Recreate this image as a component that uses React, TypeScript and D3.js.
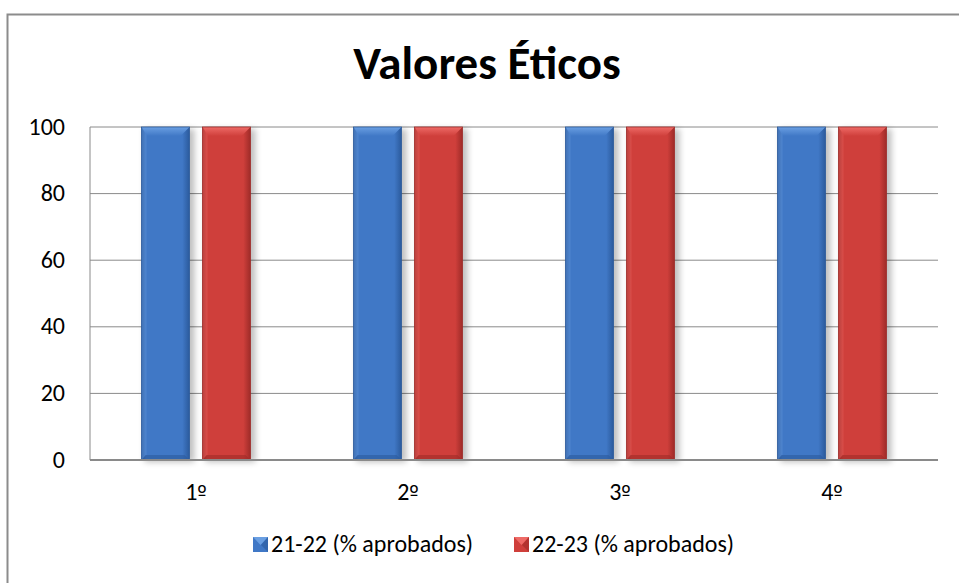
import { useEffect, useRef } from 'react';
import * as d3 from 'd3';

const categories = ['1º', '2º', '3º', '4º'];
const series = ['21-22 (% aprobados)', '22-23 (% aprobados)'];
const values2122 = [100, 100, 100, 100];
const values2223 = [100, 100, 100, 100];
const yTicks = [0, 20, 40, 60, 80, 100];

const palette = [
  { light: '#6a9fe2', main: '#4078c6', dark: '#2b5a9c' },
  { light: '#ee6a66', main: '#cf3f3b', dark: '#9e2b28' },
];

const FONT = "Carlito, Calibri, 'Open Sans', 'Noto Sans', sans-serif";

const App = () => {
  const svgRef = useRef<SVGSVGElement | null>(null);

  useEffect(() => {
    if (!svgRef.current) return;
    const svg = d3.select(svgRef.current);
    svg.selectAll('*').remove();

    const width = 959;
    const height = 583;
    const plot = { left: 90, right: 938, top: 127, bottom: 460 };

    const defs = svg.append('defs');
    palette.forEach((c, i) => {
      const g = defs.append('linearGradient').attr('id', `body${i}`).attr('x1', 0).attr('x2', 1).attr('y1', 0).attr('y2', 0);
      g.append('stop').attr('offset', '0%').attr('stop-color', c.dark);
      g.append('stop').attr('offset', '10%').attr('stop-color', c.main);
      g.append('stop').attr('offset', '85%').attr('stop-color', c.main);
      g.append('stop').attr('offset', '100%').attr('stop-color', c.dark);
      const t = defs.append('linearGradient').attr('id', `top${i}`).attr('x1', 0).attr('x2', 0).attr('y1', 0).attr('y2', 1);
      t.append('stop').attr('offset', '0%').attr('stop-color', c.light);
      t.append('stop').attr('offset', '100%').attr('stop-color', c.main);
    });
    const f = defs.append('filter').attr('id', 'shadow').attr('x', '-20%').attr('y', '-5%').attr('width', '150%').attr('height', '110%');
    f.append('feGaussianBlur').attr('stdDeviation', 3);

    svg.append('rect').attr('width', width).attr('height', height).attr('fill', '#fff');
    svg.append('rect')
      .attr('x', 7.5).attr('y', 14.5).attr('width', 1000).attr('height', 700)
      .attr('fill', 'none').attr('stroke', '#8c8c8c').attr('stroke-width', 2);

    svg.append('text')
      .attr('x', 487).attr('y', 79)
      .attr('text-anchor', 'middle')
      .attr('font-family', FONT).attr('font-weight', 'bold').attr('font-size', 47)
      .attr('fill', '#000')
      .text('Valores Éticos');

    const y = d3.scaleLinear().domain([0, 100]).range([plot.bottom, plot.top]);
    const x0 = d3.scaleBand<string>().domain(categories).range([plot.left, plot.right]);
    const x1 = d3.scaleBand<string>().domain(series).range([51.5, 160.5]).paddingInner(13 / 61);

    // gridlines
    svg.append('g').selectAll('line').data(yTicks.filter(t => t > 0)).enter().append('line')
      .attr('x1', plot.left).attr('x2', plot.right)
      .attr('y1', d => y(d)).attr('y2', d => y(d))
      .attr('stroke', '#8a8a8a').attr('stroke-width', 1);

    svg.append('line')
      .attr('x1', plot.left).attr('x2', plot.left).attr('y1', plot.top).attr('y2', plot.bottom)
      .attr('stroke', '#8a8a8a').attr('stroke-width', 1);

    svg.append('g').selectAll('text').data(yTicks).enter().append('text')
      .attr('x', 65).attr('y', d => y(d) + 7.5)
      .attr('text-anchor', 'end')
      .attr('font-family', FONT).attr('font-size', 24).attr('fill', '#000')
      .text(d => d);

    const rows = categories.map((c, i) => ({ cat: c, vals: [values2122[i], values2223[i]] }));

    rows.forEach(r => {
      r.vals.forEach((v, si) => {
        const bx = (x0(r.cat) as number) + (x1(series[si]) as number);
        const bw = x1.bandwidth();
        const by = y(v);
        const bh = y(0) - by;
        const g = svg.append('g');
        g.append('rect')
          .attr('x', bx + 3).attr('y', by + 2).attr('width', bw + 2).attr('height', bh)
          .attr('fill', '#000').attr('opacity', 0.25).attr('filter', 'url(#shadow)');
        g.append('rect')
          .attr('x', bx).attr('y', by).attr('width', bw).attr('height', bh)
          .attr('fill', `url(#body${si})`);
        const bev = 9;
        g.append('path')
          .attr('d', `M${bx},${by} L${bx + bw},${by} L${bx + bw - bev},${by + bev} L${bx + bev * 0.6},${by + bev} Z`)
          .attr('fill', `url(#top${si})`);
        g.append('path')
          .attr('d', `M${bx},${by} L${bx + 5},${by + 8} L${bx + 5},${by + bh - 5} L${bx},${by + bh} Z`)
          .attr('fill', palette[si].light).attr('opacity', 0.35);
        g.append('path')
          .attr('d', `M${bx},${by + bh} L${bx + bw},${by + bh} L${bx + bw - 5},${by + bh - 5} L${bx + 4},${by + bh - 5} Z`)
          .attr('fill', palette[si].dark).attr('opacity', 0.6);
        g.append('rect')
          .attr('x', bx).attr('y', by).attr('width', bw).attr('height', bh)
          .attr('fill', 'none').attr('stroke', palette[si].dark).attr('stroke-width', 0.8);
      });
    });

    // x axis line
    svg.append('line')
      .attr('x1', plot.left).attr('x2', plot.right).attr('y1', plot.bottom).attr('y2', plot.bottom)
      .attr('stroke', '#8a8a8a').attr('stroke-width', 2);

    const catLabels = svg.append('g').selectAll('text').data(categories).enter().append('text')
      .attr('x', d => (x0(d) as number) + x0.bandwidth() / 2)
      .attr('y', 500)
      .attr('text-anchor', 'middle')
      .attr('font-family', FONT).attr('font-size', 24).attr('fill', '#000');
    catLabels.append('tspan').text(d => d.slice(0, -1));
    catLabels.append('tspan').attr('font-family', "'DejaVu Sans', sans-serif").attr('font-size', 20).text(d => d.slice(-1));

    // legend
    const legendX = [253, 514];
    series.forEach((s, i) => {
      const lx = legendX[i];
      const c = palette[i];
      svg.append('rect').attr('x', lx).attr('y', 537).attr('width', 15).attr('height', 15).attr('fill', c.main);
      svg.append('path')
        .attr('d', `M${lx},537 L${lx + 15},537 L${lx + 7.5},545 Z`).attr('fill', c.light);
      svg.append('path')
        .attr('d', `M${lx + 15},537 L${lx + 15},552 L${lx + 8},545 Z`).attr('fill', c.dark).attr('opacity', 0.6);
      svg.append('text')
        .attr('x', lx + 18).attr('y', 552)
        .attr('font-family', FONT).attr('font-size', 24).attr('fill', '#000')
        .text(s);
    });
  }, []);

  return (
    <svg ref={svgRef} width={959} height={583} style={{ position: 'absolute', left: 0, top: 0 }} />
  );
};

export default App;
